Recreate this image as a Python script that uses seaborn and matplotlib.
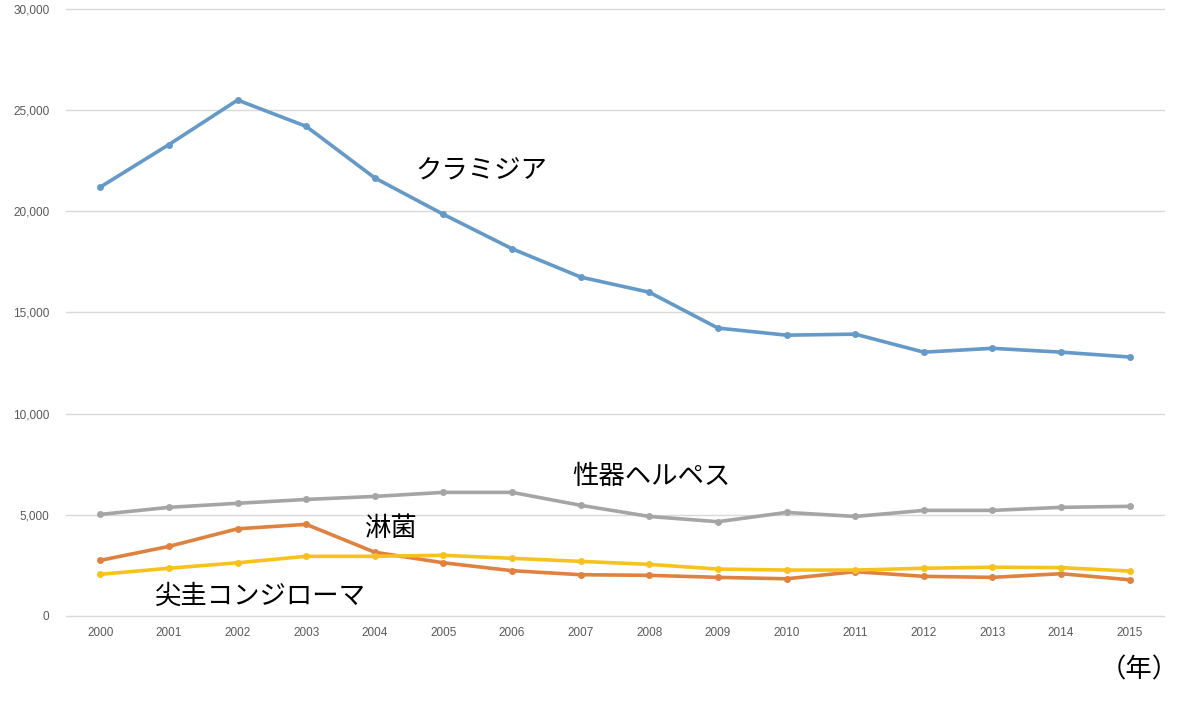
import numpy as np
import pandas as pd
import matplotlib.pyplot as plt
import seaborn as sns
from matplotlib.ticker import FuncFormatter

years = list(range(2000, 2016))
chlamydia = [21200, 23300, 25500, 24200, 21650, 19850, 18150, 16750, 16000, 14230, 13880, 13930, 13040, 13230, 13040, 12800]
herpes = [5020, 5370, 5570, 5760, 5910, 6110, 6110, 5470, 4920, 4660, 5120, 4920, 5220, 5220, 5370, 5420]
gonorrhea = [2750, 3440, 4310, 4530, 3150, 2630, 2240, 2040, 2010, 1910, 1840, 2190, 1960, 1910, 2090, 1790]
condyloma = [2060, 2360, 2630, 2950, 2950, 3000, 2850, 2700, 2550, 2320, 2270, 2270, 2360, 2410, 2390, 2220]

names = ["クラミジア", "性器ヘルペス", "淋菌", "尖圭コンジローマ"]
colors = {"クラミジア": "#6499C8", "性器ヘルペス": "#A5A5A5", "淋菌": "#DF823F", "尖圭コンジローマ": "#F7C21E"}

df = pd.DataFrame({"年": years * 4,
                   "件数": chlamydia + herpes + gonorrhea + condyloma,
                   "病名": sum([[n] * len(years) for n in names], [])})

sns.set_theme(style="white")
plt.rcParams['font.family'] = ['Noto Sans CJK JP', 'DejaVu Sans']

fig = plt.figure(figsize=(11.87, 7.01), dpi=100)
ax = fig.add_axes([66 / 1187, 1 - 616 / 701, (1164 - 66) / 1187, (616 - 9) / 701])

sns.lineplot(data=df, x="年", y="件数", hue="病名", palette=colors, marker="o",
             markersize=5, markeredgewidth=0, linewidth=2.6, legend=False, ax=ax, zorder=3)

ax.set_xlim(1999.5, 2015.5)
ax.set_ylim(0, 30000)
ax.set_xticks(years)
ax.set_xticklabels([str(y) for y in years], fontsize=8.5, color="#595959", family="Liberation Sans")
ax.set_yticks(range(0, 30001, 5000))
ax.yaxis.set_major_formatter(FuncFormatter(lambda v, p: f"{int(v):,}"))
for t in ax.get_yticklabels():
    t.set_fontsize(8.5)
    t.set_color("#595959")
    t.set_family("Liberation Sans")
ax.tick_params(axis="x", pad=8, length=0)
ax.tick_params(axis="y", pad=12, length=0)
ax.grid(axis="y", color="#D9D9D9", linewidth=1)
for g in ax.get_ygridlines():
    g.set_clip_on(False)
ax.set_axisbelow(True)
for s in ax.spines.values():
    s.set_visible(False)
ax.set_xlabel("")
ax.set_ylabel("")

fs = 19
fig.text(415 / 1187, 1 - 171 / 701, "クラミジア", fontsize=fs, va="center", ha="left", color="black")
fig.text(572 / 1187, 1 - 476 / 701, "性器ヘルペス", fontsize=fs, va="center", ha="left", color="black")
fig.text(365 / 1187, 1 - 528 / 701, "淋菌", fontsize=fs, va="center", ha="left", color="black")
fig.text(155 / 1187, 1 - 596 / 701, "尖圭コンジローマ", fontsize=fs, va="center", ha="left", color="black")
fig.text(1100 / 1187, 1 - 670 / 701, "（年）", fontsize=fs, va="center", ha="left", color="black")

fig.savefig("out.png", dpi=100)
